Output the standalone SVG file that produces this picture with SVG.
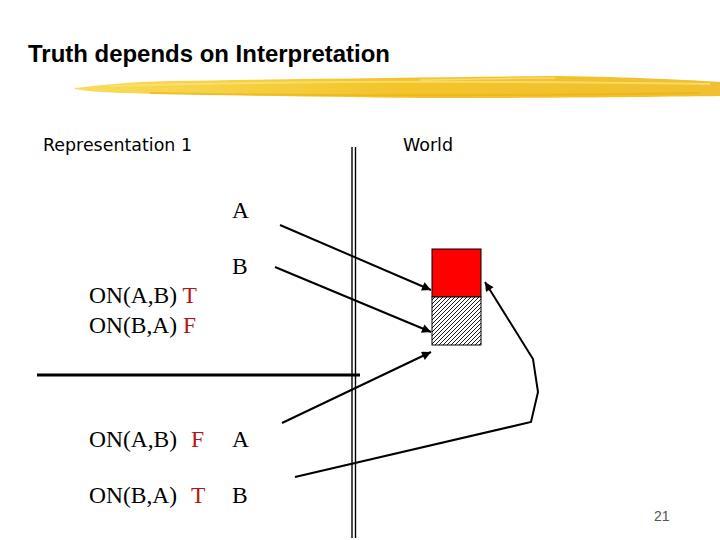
<svg xmlns="http://www.w3.org/2000/svg" width="720" height="540" viewBox="0 0 720 540">
<defs>
<style>
.t{font-family:"Liberation Serif","Times New Roman",serif;font-size:23.5px;fill:#000}
.r{fill:#b01818}
.s{font-family:"DejaVu Sans",Verdana,sans-serif;font-size:18px;fill:#000}
.ln{stroke:#000;stroke-width:2;fill:none}
</style>
<marker id="ah" viewBox="0 0 10 10" refX="10" refY="5" markerWidth="5.5" markerHeight="4.5" orient="auto" markerUnits="strokeWidth">
<path d="M0,0 L10,5 L0,10 Z" fill="#000"/>
</marker>
<pattern id="hatch" width="4" height="4" patternUnits="userSpaceOnUse">
<rect width="4" height="4" fill="#fff"/>
<path d="M-1,1 L1,-1 M0,4 L4,0 M3,5 L5,3" stroke="#000" stroke-width="0.9"/>
</pattern>
<linearGradient id="yg" x1="0" y1="0" x2="1" y2="0">
<stop offset="0" stop-color="#f8dc5a"/>
<stop offset="0.5" stop-color="#f3c42a"/>
<stop offset="1" stop-color="#f0c030"/>
</linearGradient>
</defs>
<rect width="720" height="540" fill="#fff"/>
<g id="title">
<text x="28" y="62" font-family="Liberation Sans, Arial, sans-serif" font-weight="bold" font-size="24" textLength="362" lengthAdjust="spacingAndGlyphs">Truth depends on Interpretation</text>
<path d="M75,88 C100,85 130,82 170,81 C300,79 450,77 560,76 C630,77 690,80 720,82 L720,96 C640,97 560,98 450,98 C330,97 200,95 120,93 C100,92 85,91 75,89 Z" fill="url(#yg)"/>
<path d="M110,86 C250,82 450,80 710,84" stroke="#fbe47a" stroke-width="2" fill="none" opacity="0.7"/>
<path d="M150,93 C300,96 500,96 700,93" stroke="#eab010" stroke-width="2" fill="none" opacity="0.6"/>
<path d="M420,80 C480,79 520,78 555,78" stroke="#f7e08a" stroke-width="1.5" fill="none" opacity="0.8"/>
</g>
<g id="labels">
<text class="s" x="43" y="151" textLength="149" lengthAdjust="spacingAndGlyphs">Representation 1</text>
<text class="s" x="403" y="151" textLength="50" lengthAdjust="spacingAndGlyphs">World</text>
<text class="t" x="232" y="218">A</text>
<text class="t" x="232" y="274">B</text>
<text class="t" x="89" y="303">ON(A,B) <tspan class="r">T</tspan></text>
<text class="t" x="89" y="333">ON(B,A) <tspan class="r">F</tspan></text>
<text class="t" x="89" y="447">ON(A,B)</text>
<text class="t r" x="191" y="447">F</text>
<text class="t" x="232" y="447">A</text>
<text class="t" x="89" y="503">ON(B,A)</text>
<text class="t r" x="191" y="503">T</text>
<text class="t" x="232" y="503">B</text>
<text x="654" y="521" font-family="Liberation Sans, Arial, sans-serif" font-size="14" fill="#555">21</text>
</g>
<g id="world-blocks">
<rect id="blockA" x="432" y="249" width="49" height="48" fill="#ff0000" stroke="#000" stroke-width="1"/>
<rect id="blockB" x="432" y="297" width="49" height="48" fill="url(#hatch)" stroke="#000" stroke-width="1"/>
</g>
<g id="dividers">
<line x1="352" y1="147" x2="352" y2="538" stroke="#000" stroke-width="1.4"/>
<line x1="355.5" y1="147" x2="355.5" y2="538" stroke="#000" stroke-width="1.4"/>
<line x1="37" y1="375" x2="360" y2="375" stroke="#000" stroke-width="3"/>
</g>
<g id="connectors">
<line class="ln" x1="280" y1="225" x2="431" y2="290" marker-end="url(#ah)"/>
<line class="ln" x1="275" y1="267" x2="431" y2="332" marker-end="url(#ah)"/>
<line class="ln" x1="282" y1="423" x2="431" y2="352" marker-end="url(#ah)"/>
<polyline class="ln" points="295,477 531,422 538,392 533,359 485,282" marker-end="url(#ah)"/>
</g>
</svg>
